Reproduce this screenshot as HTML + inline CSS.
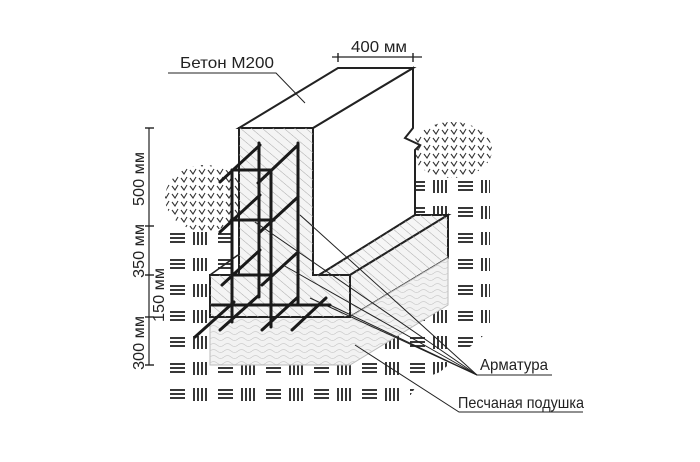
<!DOCTYPE html>
<html><head><meta charset="utf-8"><style>
html,body{margin:0;padding:0;background:#fff;}
svg{display:block;}
text{font-family:"Liberation Sans",sans-serif;fill:#222;}
</style></head><body>
<svg width="700" height="462" viewBox="0 0 700 462" xmlns="http://www.w3.org/2000/svg">
<defs>
<pattern id="hatch" width="48" height="26" patternUnits="userSpaceOnUse" x="168" y="228">
 <g stroke="#222" stroke-width="1.8">
  <line x1="2" y1="6" x2="17" y2="6"/><line x1="2" y1="10" x2="17" y2="10"/><line x1="2" y1="14" x2="17" y2="14"/>
  <line x1="26" y1="4" x2="26" y2="17"/><line x1="30" y1="4" x2="30" y2="17"/><line x1="34" y1="4" x2="34" y2="17"/><line x1="38" y1="4" x2="38" y2="17"/>
 </g>
</pattern>
<pattern id="grass" width="9" height="8" patternUnits="userSpaceOnUse">
 <path d="M1 2 L4 6 L7 1" stroke="#333" stroke-width="1.1" fill="none"/>
</pattern>
<pattern id="diag" width="7" height="7" patternUnits="userSpaceOnUse" patternTransform="rotate(-50)">
 <line x1="0" y1="0" x2="0" y2="7" stroke="#aaa" stroke-width="1"/>
</pattern>
<pattern id="wave" width="14" height="6" patternUnits="userSpaceOnUse">
 <path d="M0 3 Q3.5 0 7 3 T14 3" stroke="#ccc" stroke-width="0.8" fill="none"/>
</pattern>
</defs>

<ellipse cx="205" cy="198" rx="40" ry="33" fill="url(#grass)"/>
<ellipse cx="452" cy="150" rx="40" ry="28" fill="url(#grass)"/>
<polygon points="168,228 240,228 415,175 490,175 490,330 440,372 420,380 400,412 168,412" fill="url(#hatch)"/>

<polygon points="313,128 413,68 413,128 405,138 420,145 415,150 415,215 319,275 313,275" fill="#fff" stroke="#222" stroke-width="2"/>
<polygon points="239,128 313,128 413,68 338,68" fill="#fff" stroke="#222" stroke-width="2"/>
<polygon points="319,275 415,215 448,215 350,275" fill="#f6f6f6" stroke="#222" stroke-width="2"/>
<polygon points="319,275 415,215 448,215 350,275" fill="url(#diag)"/>
<polygon points="350,275 448,215 448,258 350,317" fill="#f4f4f4" stroke="#222" stroke-width="2"/>
<polygon points="350,275 448,215 448,258 350,317" fill="url(#diag)"/>
<polygon points="210,317 350,317 448,258 448,305 350,365 210,365" fill="#f2f2f2" stroke="#bbb" stroke-width="1"/>
<polygon points="210,317 350,317 448,258 448,305 350,365 210,365" fill="url(#wave)"/>
<polygon points="239,128 313,128 313,275 350,275 350,317 210,317 210,275 239,275" fill="#f4f4f4" stroke="#222" stroke-width="2"/>
<polygon points="239,128 313,128 313,275 350,275 350,317 210,317 210,275 239,275" fill="url(#diag)"/>
<line x1="210" y1="275" x2="238" y2="255" stroke="#222" stroke-width="1.6"/>

<g stroke="#1a1a1a" stroke-width="3" fill="none" stroke-linecap="round">
 <line x1="259" y1="143" x2="259" y2="297"/>
 <line x1="298" y1="143" x2="298" y2="303"/>
 <line x1="232" y1="170" x2="232" y2="322"/>
 <line x1="271" y1="170" x2="271" y2="327"/>
 <line x1="232" y1="170" x2="271" y2="170"/>
 <line x1="232" y1="220" x2="274" y2="220"/>
 <line x1="232" y1="275" x2="272" y2="275"/>
 <line x1="212" y1="305" x2="330" y2="305"/>
 <line x1="220" y1="182" x2="260" y2="145"/>
 <line x1="258" y1="183" x2="298" y2="145"/>
 <line x1="220" y1="232" x2="260" y2="195"/>
 <line x1="260" y1="232" x2="298" y2="197"/>
 <line x1="222" y1="285" x2="260" y2="250"/>
 <line x1="262" y1="285" x2="298" y2="252"/>
 <line x1="195" y1="337" x2="234" y2="302"/>
 <line x1="220" y1="330" x2="258" y2="296"/>
 <line x1="262" y1="330" x2="298" y2="297"/>
 <line x1="292" y1="330" x2="326" y2="298"/>
</g>

<g stroke="#222" stroke-width="1" fill="none">
 <polyline points="168,73 276,73 305,103"/>
 <line x1="477" y1="375" x2="552" y2="375"/>
 <line x1="477" y1="375" x2="300" y2="215"/>
 <line x1="477" y1="375" x2="255" y2="222"/>
 <line x1="477" y1="375" x2="283" y2="265"/>
 <line x1="477" y1="375" x2="330" y2="305"/>
 <line x1="477" y1="375" x2="310" y2="298"/>
 <polyline points="583,412 459,412 355,345"/>
 <line x1="149" y1="128" x2="149" y2="365" stroke-width="1.2"/>
 <g stroke-width="1.4">
  <line x1="145" y1="128" x2="154" y2="128"/><line x1="145" y1="226" x2="154" y2="226"/>
  <line x1="145" y1="275" x2="154" y2="275"/><line x1="145" y1="317" x2="154" y2="317"/>
  <line x1="145" y1="365" x2="154" y2="365"/>
  <line x1="338" y1="53" x2="338" y2="62"/><line x1="413" y1="53" x2="413" y2="62"/>
 </g>
 <line x1="332" y1="57" x2="422" y2="57" stroke-width="1.2"/>
</g>

<g font-size="16">
<text x="180" y="68" textLength="94" lengthAdjust="spacingAndGlyphs">Бетон М200</text>
<text x="351" y="52" textLength="56" lengthAdjust="spacingAndGlyphs">400 мм</text>
<text x="480" y="370" textLength="68" lengthAdjust="spacingAndGlyphs">Арматура</text>
<text x="458" y="408" textLength="126" lengthAdjust="spacingAndGlyphs">Песчаная подушка</text>
 <text transform="translate(144,206) rotate(-90)" textLength="54" lengthAdjust="spacingAndGlyphs">500 мм</text>
 <text transform="translate(144,278) rotate(-90)" textLength="54" lengthAdjust="spacingAndGlyphs">350 мм</text>
 <text transform="translate(164,322) rotate(-90)" textLength="54" lengthAdjust="spacingAndGlyphs">150 мм</text>
 <text transform="translate(144,370) rotate(-90)" textLength="54" lengthAdjust="spacingAndGlyphs">300 мм</text>
</g>
</svg>
</body></html>
